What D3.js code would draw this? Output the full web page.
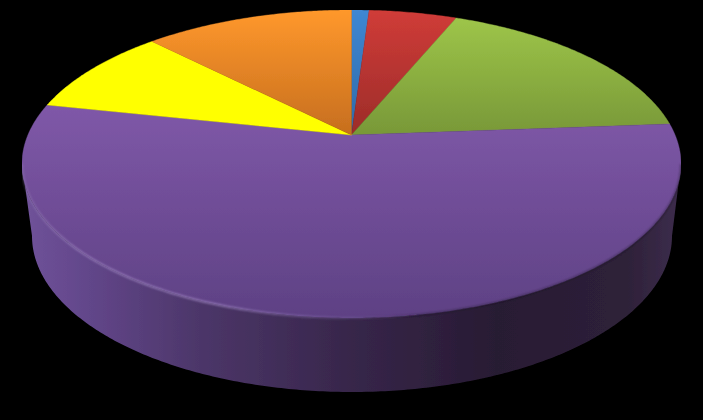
<!DOCTYPE html>
<html>
<head>
<meta charset="utf-8">
<script src="https://cdn.jsdelivr.net/npm/d3@7"></script>
<style>html,body{margin:0;padding:0;background:#000;overflow:hidden}svg{display:block}</style>
</head>
<body>
<script>
const categories = ["Blue","Red","Green","Purple","Yellow","Orange"];
const values = [1.03,5.17,17.6,54.57,9.3,12.33];
const topColors = ["#3f87d2","#d03c38","#a0c84a","#7f58a8","#ffff00","#ff982c"];
const bottomColors = ["#2f6aa8","#9c2c29","#789838","#5e4184","#ffff00","#c66e1e"];

const W = 703, H = 420;
const svg = d3.select("body").append("svg").attr("width",W).attr("height",H);
svg.append("rect").attr("width",W).attr("height",H).attr("fill","#000");
const defs = svg.append("defs");
const scene = svg.append("g").attr("filter","url(#soft0)");
defs.append("filter").attr("id","soft0").attr("x",0).attr("y",0).attr("width",1).attr("height",1)
  .attr("filterUnits","objectBoundingBox").append("feGaussianBlur").attr("stdDeviation",0.45);

// perspective projection of a unit disc onto the screen
const cx = 351.5, R = 323.6, c = -0.1883, a = 123.1, b = 135;
const project = (t) => {
  const u = Math.sin(t), v = -Math.cos(t), w = 1 + c*v;
  return [cx + R*u/w, (a*v + b)/w];
};
const projectLow = (t) => {
  const [x,y] = project(t);
  return [cx + 0.5 + (x-cx)*320/329.5, 236 + (y-164)*156/154];
};
const line = d3.line();
const arcPts = (t0,t1,fn=project) => {
  const n = Math.max(2, Math.ceil(Math.abs(t1-t0)/0.01));
  return d3.range(n+1).map(i => fn(t0 + (t1-t0)*i/n));
};

const pie = d3.pie().sort(null)(values);
const tL = (180+79.15)*Math.PI/180, tR = (180-79.15)*Math.PI/180;

// side wall
const sideGrad = defs.append("linearGradient").attr("id","side")
  .attr("gradientUnits","userSpaceOnUse").attr("x1",22).attr("x2",681).attr("y1",0).attr("y2",0);
[[0,"#70539a"],[0.1,"#62468a"],[0.27,"#4c3669"],[0.5,"#37264a"],[0.72,"#281b33"],[0.92,"#2e2139"],[1,"#3d2d4d"]]
  .forEach(([o,col]) => sideGrad.append("stop").attr("offset",o).attr("stop-color",col));
scene.append("path")
  .attr("d", line([...arcPts(tR,tL), ...arcPts(tL,tR,projectLow)])+"Z")
  .attr("fill","url(#side)");

// top slices
defs.append("filter").attr("id","soft").append("feGaussianBlur").attr("stdDeviation",0.8);
pie.forEach((d,i) => {
  const g = defs.append("linearGradient").attr("id","g"+i).attr("gradientUnits","userSpaceOnUse")
    .attr("x1",0).attr("x2",0).attr("y1", categories[i]==="Purple"?105:10).attr("y2", categories[i]==="Purple"?318:135);
  g.append("stop").attr("offset",0).attr("stop-color",topColors[i]);
  g.append("stop").attr("offset",1).attr("stop-color",bottomColors[i]);
  scene.append("path")
    .attr("d", line([[cx,b], ...arcPts(d.startAngle,d.endAngle)])+"Z")
    .attr("fill",`url(#g${i})`)
    .attr("stroke",`url(#g${i})`).attr("stroke-width",0.4);
});

// bevel highlight along the front rim
const rim = defs.append("linearGradient").attr("id","rim")
  .attr("gradientUnits","userSpaceOnUse").attr("x1",22).attr("x2",681).attr("y1",0).attr("y2",0);
[[0,"#a892c8",0.35],[0.08,"#a58dc8",0.75],[0.3,"#a58dc8",0.8],[0.5,"#8a70b0",0.3],[0.62,"#000",0.3],[1,"#000",0.35]]
  .forEach(([o,col,op]) => rim.append("stop").attr("offset",o).attr("stop-color",col).attr("stop-opacity",op));
scene.append("path")
  .attr("d", line(arcPts(tR,tL)))
  .attr("fill","none").attr("stroke","url(#rim)").attr("stroke-width",1.8).attr("filter","url(#soft)");
</script>
</body>
</html>
